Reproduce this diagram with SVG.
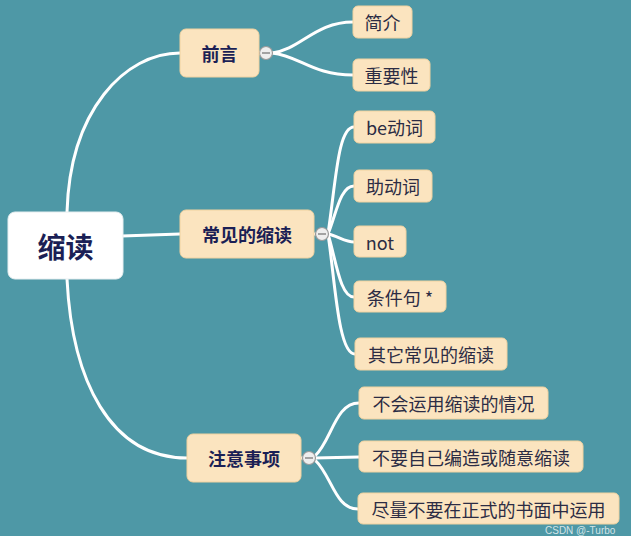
<svg xmlns="http://www.w3.org/2000/svg" width="631" height="536" viewBox="0 0 631 536">
<style>
.bg{fill:#4e98a6}
.root{fill:#ffffff;stroke:#e6eef0;stroke-width:1}
.main{fill:#fbe4bf;stroke:#f0d2a0;stroke-width:1}
.sub{fill:#fbe4bf;stroke:#f0d2a0;stroke-width:1}
.t{font-family:"Noto Sans CJK SC","Noto Sans",sans-serif;text-anchor:middle;dominant-baseline:central}
.tr{font-size:28px;font-weight:bold;fill:#1b1f55}
.tm{font-size:18px;font-weight:bold;fill:#1b1f55}
.ts{font-size:18px;fill:#2c2c44}
.ln{fill:none;stroke:#ffffff;stroke-width:3;stroke-linecap:round}
.col{fill:#eeeeee;stroke:#9a9a9a;stroke-width:1.2}
.mn{stroke:#888;stroke-width:1.5}
</style>
<rect class="bg" x="0" y="0" width="631" height="536"/>
<g id="connectors">
<path class="ln" d="M67 212 C70 110 125 53 180 53"/>
<path class="ln" d="M122 236 L180 234"/>
<path class="ln" d="M67 279 C72 380 110 458 187 458"/>
<path class="ln" d="M259 53 L261 53"/>
<path class="ln" d="M272 53 C300 50 315 22 353 22"/>
<path class="ln" d="M272 53 C300 56 312 75 353 75"/>
<path class="ln" d="M314 234 L316 234"/>
<path class="ln" d="M328 234 C336 180 338 127 354 127"/>
<path class="ln" d="M328 234 C336 215 340 186 354 186"/>
<path class="ln" d="M328 234 C338 236 345 242 354 242"/>
<path class="ln" d="M328 234 C336 260 340 297 354 297"/>
<path class="ln" d="M328 234 C335 280 338 354 355 354"/>
<path class="ln" d="M301 458 L303 458"/>
<path class="ln" d="M315 456 C332 440 335 403 359 403"/>
<path class="ln" d="M315 458 L359 457"/>
<path class="ln" d="M315 460 C332 476 335 509 358 509"/>
<g id="collapse1"><circle class="col" cx="266" cy="53" r="6.5"/><line class="mn" x1="262" y1="53" x2="270" y2="53"/></g>
<g id="collapse2"><circle class="col" cx="322" cy="234" r="6.5"/><line class="mn" x1="318" y1="234" x2="326" y2="234"/></g>
<g id="collapse3"><circle class="col" cx="309" cy="458" r="6.5"/><line class="mn" x1="305" y1="458" x2="313" y2="458"/></g>
</g>
<g id="n-root"><rect class="root" x="8" y="212" width="115" height="67" rx="7"/><text class="t tr" x="65.5" y="246">缩读</text></g>
<g id="n-qianyan"><rect class="main" x="180" y="29" width="79" height="48" rx="6"/><text class="t tm" x="219.5" y="53">前言</text></g>
<g id="n-changjian"><rect class="main" x="180" y="210" width="134" height="48" rx="6"/><text class="t tm" x="247" y="234">常见的缩读</text></g>
<g id="n-zhuyi"><rect class="main" x="187" y="434" width="114" height="48" rx="6"/><text class="t tm" x="244" y="458">注意事项</text></g>
<g id="n-jianjie"><rect class="sub" x="353" y="6" width="59" height="32" rx="5"/><text class="t ts" x="382.5" y="22">简介</text></g>
<g id="n-zhongyao"><rect class="sub" x="353" y="59" width="77" height="32" rx="5"/><text class="t ts" x="391.5" y="75">重要性</text></g>
<g id="n-be"><rect class="sub" x="354" y="111" width="81" height="32" rx="5"/><text class="t ts" x="394.5" y="127">be动词</text></g>
<g id="n-zhu"><rect class="sub" x="354" y="170" width="78" height="32" rx="5"/><text class="t ts" x="393" y="186">助动词</text></g>
<g id="n-not"><rect class="sub" x="354" y="226" width="52" height="31" rx="5"/><text class="t ts" x="380" y="241.5">not</text></g>
<g id="n-tiaojian"><rect class="sub" x="354" y="281" width="92" height="31" rx="5"/><text class="t ts" x="400" y="296.5">条件句 *</text></g>
<g id="n-qita"><rect class="sub" x="355" y="338" width="152" height="32" rx="5"/><text class="t ts" x="431" y="354">其它常见的缩读</text></g>
<g id="n-buhui"><rect class="sub" x="359" y="387" width="189" height="32" rx="5"/><text class="t ts" x="453.5" y="403">不会运用缩读的情况</text></g>
<g id="n-buyao"><rect class="sub" x="359" y="441" width="224" height="31" rx="5"/><text class="t ts" x="471" y="456.5">不要自己编造或随意缩读</text></g>
<g id="n-jinliang"><rect class="sub" x="358" y="493" width="261" height="31" rx="5"/><text class="t ts" x="488.5" y="508.5">尽量不要在正式的书面中运用</text></g>
<text x="545" y="533.5" font-family="Liberation Sans, Arial, sans-serif" font-size="10" fill="#ffffff" fill-opacity="0.75">CSDN @-Turbo</text>
</svg>
